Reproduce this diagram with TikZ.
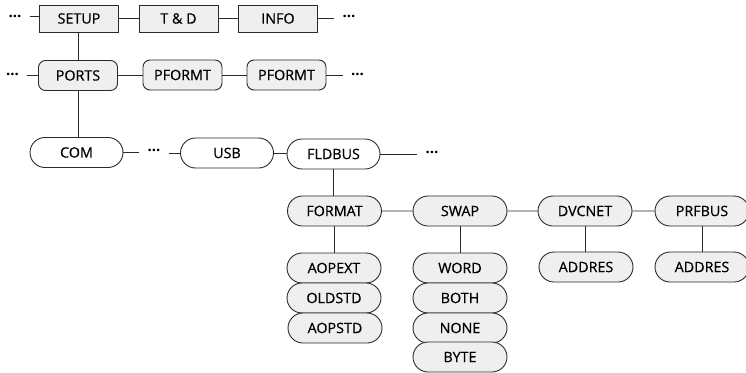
\documentclass[tikz,border=0pt]{standalone}
\usepackage{fontspec}
\setmainfont{Open Sans}
\newfontfamily\boxfont{Open Sans}[FakeBold=0.6]
\usetikzlibrary{shapes.misc}
\definecolor{boxgrey}{HTML}{EFEFEF}
\definecolor{linegrey}{HTML}{2A2A2A}
\tikzset{
  base/.style={draw=linegrey, line width=0.9pt, text=black, inner sep=0pt,
    font=\boxfont\fontsize{14.3}{16}\selectfont, text height=10.2pt, text depth=0pt},
  sqbox/.style={base, rectangle, fill=boxgrey, minimum width=79pt, minimum height=27pt},
  rrbox/.style={base, rectangle, rounded corners=7pt, fill=boxgrey, minimum width=79pt, minimum height=30pt},
  stadw/.style={base, rounded rectangle, fill=white, minimum width=93pt, minimum height=30pt},
  stadg/.style={base, rounded rectangle, fill=boxgrey, minimum width=94pt, minimum height=30pt},
  dots/.style={inner xsep=8pt, inner ysep=2pt, font=\fontsize{15}{16}\selectfont\bfseries, text=black},
  conn/.style={draw=linegrey, line width=0.9pt}
}
\begin{document}
\begin{tikzpicture}[x=1pt, y=-1pt]
\useasboundingbox (0,0) rectangle (746,372);
% row 1
\node[sqbox] (setup) at (79,18.5) {SETUP};
\node[sqbox] (td) at (178.5,18.5) {T \& D};
\node[sqbox] (info) at (278,18.5) {INFO};
\node[dots] (d1l) at (15,16) {...};
\node[dots] (d1r) at (349,16) {...};
% row 2
\node[rrbox] (ports) at (78,75.5) {PORTS};
\node[rrbox] (pf1) at (182.5,75) {PFORMT};
\node[rrbox] (pf2) at (286.5,75) {PFORMT};
\node[dots] (d2l) at (12.5,74) {...};
\node[dots] (d2r) at (357.5,74) {...};
% row 3
\node[stadw] (com) at (76.5,152.5) {COM};
\node[stadw] (usb) at (227,153) {USB};
\node[stadw] (fld) at (333.5,154) {FLDBUS};
\node[dots] (d3m) at (154,150) {...};
\node[dots] (d3r) at (432,152) {...};
% row 4
\node[stadg] (fmt) at (334.5,211) {FORMAT};
\node[stadg] (swap) at (460,211) {SWAP};
\node[stadg] (dvc) at (585,211) {DVCNET};
\node[stadg] (prf) at (702,211) {PRFBUS};
% stacks
\node[stadg] (aopext) at (334,268) {AOPEXT};
\node[stadg] (oldstd) at (334,298) {OLDSTD};
\node[stadg] (aopstd) at (335,328) {AOPSTD};
\node[stadg] (word) at (460,268) {WORD};
\node[stadg] (both) at (460,298) {BOTH};
\node[stadg] (none) at (460,328) {NONE};
\node[stadg] (byte) at (460,357) {BYTE};
\node[stadg] (addr1) at (586,267) {ADDRES};
\node[stadg] (addr2) at (702,267) {ADDRES};
% connectors
\path[conn] (d1l) -- (d1l -| setup.west);
\path[conn] (setup) -- (td);
\path[conn] (td) -- (info);
\path[conn] (info.east) -- (d1r.west |- info.east);
\path[conn] (d2l.east |- ports.west) -- (ports.west);
\path[conn] (ports.east) -- (pf1.west |- ports.east);
\path[conn] (pf1) -- (pf2);
\path[conn] (pf2.east) -- (d2r.west |- pf2.east);
\path[conn] (setup.south -| ports.north) -- (ports.north);
\path[conn] (ports.south) -- (ports.south |- com.north);
\path[conn] (com.east) -- (d3m.west |- com.east);
\path[conn] (d3m.east |- usb.west) -- (usb.west);
\path[conn] (usb) -- (fld);
\path[conn] (fld.east) -- (d3r.west |- fld.east);
\path[conn] (fld.south) -- (fld.south |- fmt.north);
\path[conn] (fmt) -- (swap);
\path[conn] (swap) -- (dvc);
\path[conn] (dvc) -- (prf);
\path[conn] (fmt.south) -- (fmt.south |- aopext.north);
\path[conn] (swap.south) -- (swap.south |- word.north);
\path[conn] (dvc.south) -- (dvc.south |- addr1.north);
\path[conn] (prf.south) -- (prf.south |- addr2.north);
\end{tikzpicture}
\end{document}
